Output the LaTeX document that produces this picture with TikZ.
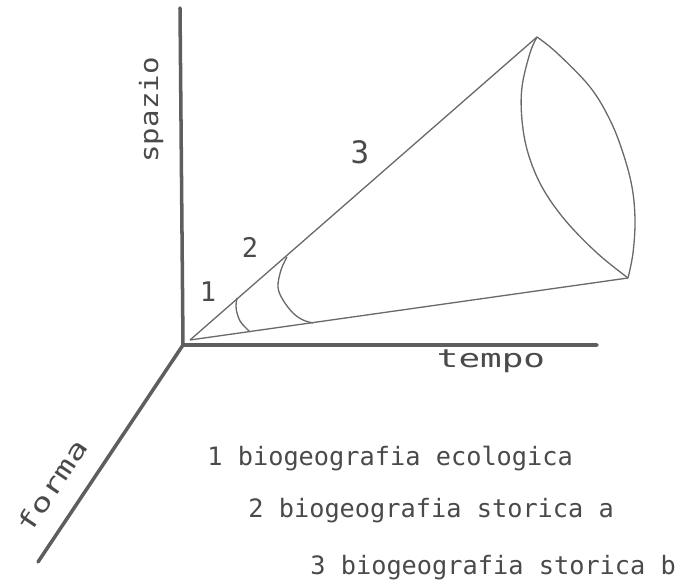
\documentclass[tikz,border=0pt]{standalone}
\usepackage{fontspec}
\setmainfont{DejaVu Sans Mono}
\definecolor{axisc}{HTML}{5E5E5E}
\definecolor{linec}{HTML}{6A6A6A}
\definecolor{inkc}{HTML}{4A4A4A}
\begin{document}
\begin{tikzpicture}[x=0.02cm,y=-0.02cm,
  axisline/.style={draw=axisc,line width=2pt,line cap=round,line join=round},
  conel/.style={draw=linec,line width=0.75pt},
  lab/.style={text=inkc,inner sep=0pt,font=\fontsize{14.4}{16}\selectfont},
  numlab/.style={text=inkc,inner sep=0pt,font=\fontsize{15.4}{17}\selectfont}]
\useasboundingbox (0,0) rectangle (697,580);
% axes
\coordinate (O) at (183,345);
\coordinate (Ytop) at (180,8);
\coordinate (Xend) at (597,345);
\coordinate (Zend) at (38,562);
\draw[axisline] (Ytop) -- (O) -- (Xend);
\draw[axisline] (O) -- (Zend);
% cone
\coordinate (C) at (190,340);
\coordinate (T) at (537,37);
\coordinate (B) at (628,278);
\draw[conel] (C) -- (T);
\draw[conel] (C) -- (B);
\draw[conel] plot[smooth,tension=0.6] coordinates {(537,37) (557,53) (590,87) (610,120) (623,153) (632,187) (635,220) (633,253) (628,278)};
\draw[conel] plot[smooth,tension=0.6] coordinates {(537,37) (530,53) (522,87) (522,120) (528,153) (542,187) (565,220) (597,253) (628,278)};
\draw[conel] plot[smooth,tension=0.6] coordinates {(237,298) (236,306) (237,313) (240,321) (245,327) (250,332)};
\draw[conel] plot[smooth,tension=0.6] coordinates {(287,257) (281,270) (278,287) (283,300) (293,313) (303,320) (313,323)};
% cone labels
\node[numlab] (n1) at (208,292) {1};
\node[numlab] (n2) at (250,247) {2};
\node[numlab,font=\fontsize{17.6}{19}\selectfont] (n3) at (360,152) {3};
% axis labels
\node[lab,anchor=base,font=\fontsize{14.4}{16}\selectfont\addfontfeature{FakeStretch=1.42}] (tempo) at (491,368) {tempo};
\node[lab,anchor=base,rotate=90,font=\fontsize{14.4}{16}\selectfont\addfontfeature{FakeStretch=1.15}] (spazio) at (158,110) {spazio};
\node[lab,anchor=base,rotate=56,font=\fontsize{14.4}{16}\selectfont\addfontfeature{FakeStretch=1.38}] (forma) at (60,491) {forma};
% legend
\node[lab,anchor=base west] (leg1) at (207,466) {1 biogeografia ecologica};
\node[lab,anchor=base west] (leg2) at (248,518) {2 biogeografia storica a};
\node[lab,anchor=base west] (leg3) at (310,575) {3 biogeografia storica b};
\end{tikzpicture}
\end{document}
